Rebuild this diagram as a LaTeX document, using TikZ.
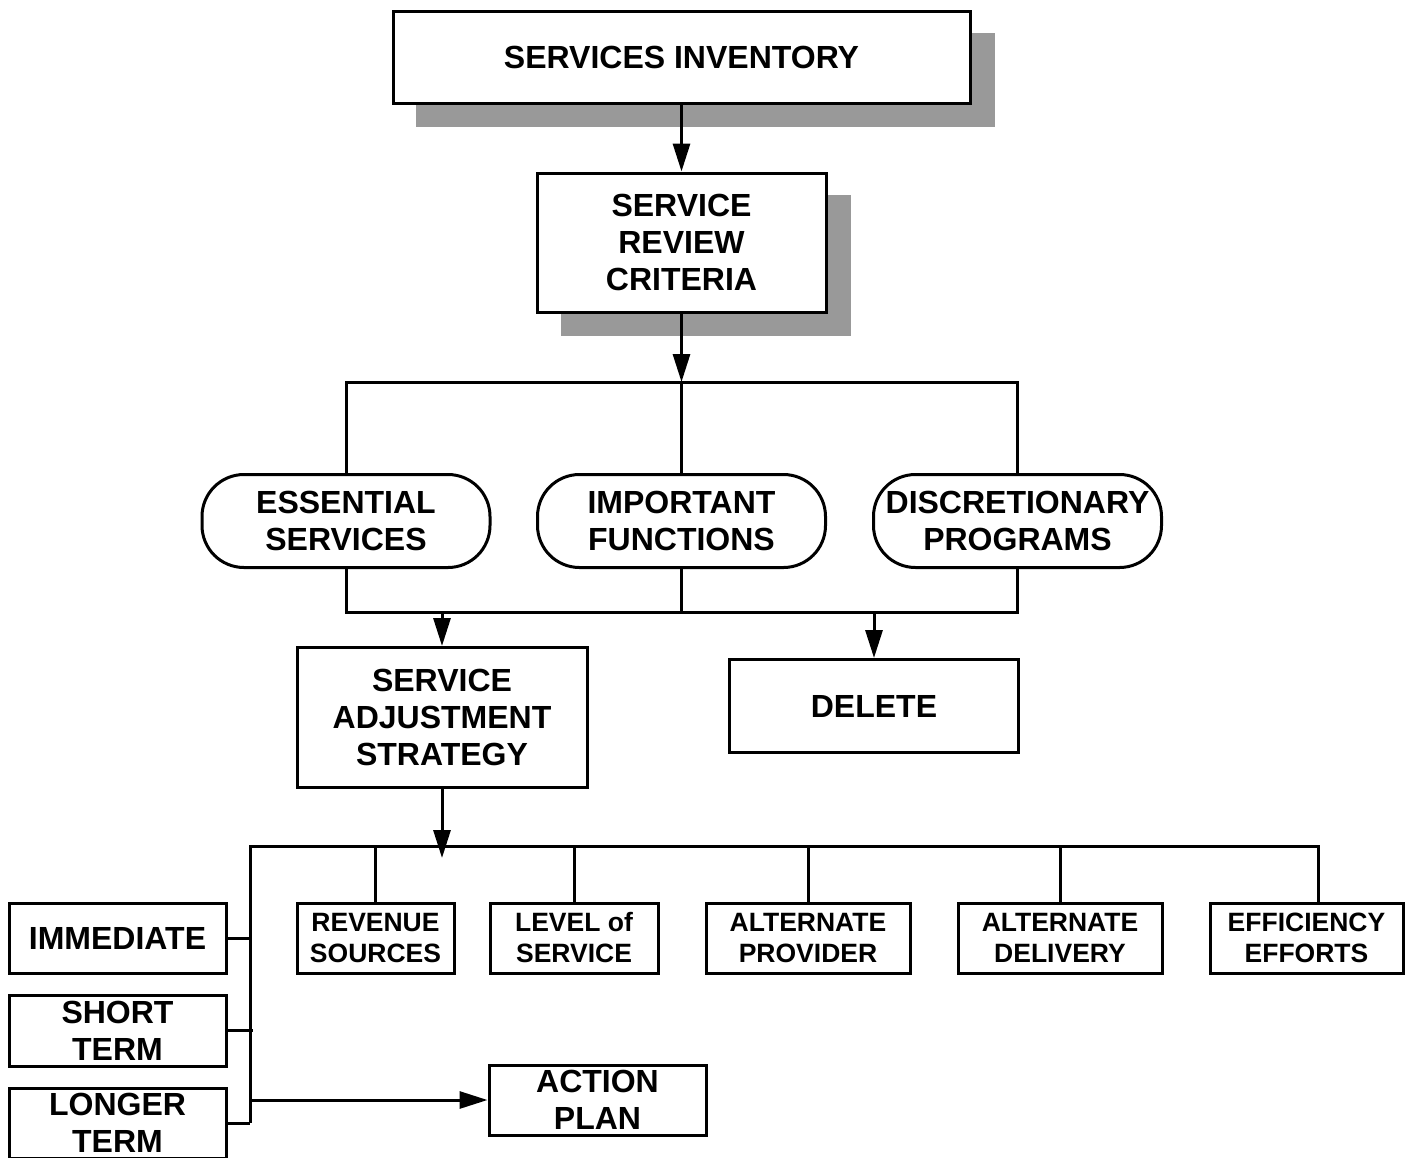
\documentclass[tikz,border=0pt]{standalone}
\usepackage{fontspec}
\setmainfont{Liberation Sans}
\usetikzlibrary{arrows.meta,calc}
\begin{document}
\begin{tikzpicture}[x=1pt,y=-1pt,
  lw/.style={line width=3pt},
  box/.style={draw,lw,fill=white,inner sep=0pt,align=center,font=\bfseries\fontsize{32}{37}\selectfont},
  smallbox/.style={box,font=\bfseries\fontsize{26.5}{31}\selectfont},
  oval/.style={box,rounded corners=42pt},
  shadowfill/.style={fill=black!40},
  conn/.style={lw},
  arr/.style={lw,-{Triangle[length=28pt,width=17pt]}}]
\useasboundingbox (0,0) rectangle (1410,1157);
% shadows
\fill[shadowfill] (416,33) rectangle (995,127);
\fill[shadowfill] (561,195) rectangle (851,336);
% nodes
\node[box,minimum width=577pt,minimum height=92pt] (inv) at (681.5,57) {SERVICES INVENTORY};
\node[box,minimum width=289pt,minimum height=139pt] (src) at (681.5,242.5) {SERVICE\\REVIEW\\CRITERIA};
\node[oval,minimum width=288pt,minimum height=93pt] (ess) at (346,521) {ESSENTIAL\\SERVICES};
\node[oval,minimum width=288pt,minimum height=93pt] (imp) at (681.5,521) {IMPORTANT\\FUNCTIONS};
\node[oval,minimum width=288pt,minimum height=93pt] (dis) at (1017.5,521) {DISCRETIONARY\\PROGRAMS};
\node[box,minimum width=290pt,minimum height=140pt] (sas) at (442,717.5) {SERVICE\\ADJUSTMENT\\STRATEGY};
\node[box,minimum width=289pt,minimum height=93pt] (del) at (874,706) {DELETE};
\node[smallbox,minimum width=157pt,minimum height=70pt] (rev) at (375.5,938) {REVENUE\\SOURCES};
\node[smallbox,minimum width=168pt,minimum height=70pt] (lev) at (574,938) {LEVEL of\\SERVICE};
\node[smallbox,minimum width=204pt,minimum height=70pt] (alp) at (808,938) {ALTERNATE\\PROVIDER};
\node[smallbox,minimum width=204pt,minimum height=70pt] (ald) at (1060,938) {ALTERNATE\\DELIVERY};
\node[smallbox,minimum width=193pt,minimum height=70pt] (eff) at (1306.5,938) {EFFICIENCY\\EFFORTS};
\node[box,minimum width=217pt,minimum height=70pt] (imm) at (117.5,938) {IMMEDIATE};
\node[box,minimum width=217pt,minimum height=71pt] (sht) at (117.5,1030.5) {SHORT\\TERM};
\node[box,minimum width=217pt,minimum height=70pt] (lng) at (117.5,1123) {LONGER\\TERM};
\node[box,minimum width=217pt,minimum height=70pt] (act) at (597.5,1100) {ACTION\\PLAN};
% junction coordinates
\coordinate (top) at (681.5,382);
\coordinate (bot) at (681.5,612);
\coordinate (hl) at (250,846);
\coordinate (effin) at ($(eff.north)+(11.5,0)$);
\coordinate (sasend) at (442,858);
% connectors
\draw[arr] (inv) -- (src);
\draw[arr] (src.south) -- (top);
\draw[conn] (ess.north) -- (ess.north |- top) -- (dis.north |- top) -- (dis.north);
\draw[conn] (imp.north) -- (top);
\draw[conn] (ess.south) -- (ess.south |- bot) -- (dis.south |- bot) -- (dis.south);
\draw[conn] (imp.south) -- (bot);
\draw[arr] (sas.north |- bot) -- (sas.north);
\draw[arr] (del.north |- bot) -- (del.north);
\draw[arr] (sas.south) -- (sasend);
\draw[conn] (lng.east -| hl) -- (hl) -- (effin |- hl) -- (effin);
\draw[conn] (rev.north) -- (rev.north |- hl);
\draw[conn] (lev.north) -- (lev.north |- hl);
\draw[conn] (alp.north) -- (alp.north |- hl);
\draw[conn] (ald.north) -- (ald.north |- hl);
\draw[conn] (imm.east) -- (imm.east -| hl);
\draw[conn] (sht.east) -- ($(sht.east -| hl)+(3,0)$);
\draw[conn] (lng.east) -- (lng.east -| hl);
\draw[arr] (act.west -| hl) -- (act.west);
\end{tikzpicture}
\end{document}
